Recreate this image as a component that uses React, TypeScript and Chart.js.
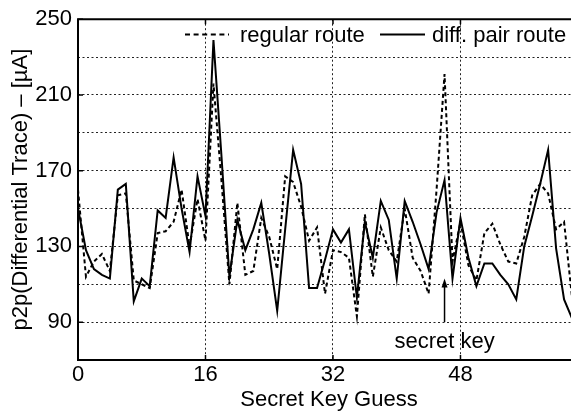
import React, { useEffect, useRef } from 'react';
import { Chart, registerables } from 'chart.js';

Chart.register(...registerables);

const keyGuesses = [
  0, 1, 2, 3, 4, 5, 6, 7, 8, 9, 10, 11, 12, 13, 14, 15,
  16, 17, 18, 19, 20, 21, 22, 23, 24, 25, 26, 27, 28, 29, 30, 31,
  32, 33, 34, 35, 36, 37, 38, 39, 40, 41, 42, 43, 44, 45, 46, 47,
  48, 49, 50, 51, 52, 53, 54, 55, 56, 57, 58, 59, 60, 61, 62,
];

const regularRoute = [
  160, 114, 122, 126, 117, 157, 158, 112, 110, 108, 137, 138, 143, 160, 130, 155,
  133, 216, 165, 110, 153, 115, 117, 145, 135, 118, 167, 164, 151, 133, 140, 105,
  128, 127, 124, 93, 147, 114, 140, 128, 122, 150, 124, 117, 105, 160, 221, 122,
  143, 120, 112, 137, 142, 131, 122, 121, 135, 157, 163, 158, 139, 143, 103,
];

const diffPairRoute = [
  150, 128, 118, 115, 113, 160, 163, 101, 113, 109, 149, 145, 177, 150, 127, 167,
  146, 239, 178, 114, 144, 128, 139, 153, 126, 96, 139, 181, 163, 108, 108, 123,
  139, 132, 139, 103, 143, 124, 154, 144, 113, 154, 143, 131, 118, 148, 165, 113,
  145, 124, 109, 121, 121, 115, 110, 102, 130, 146, 163, 181, 129, 102, 92,
];

const xTickLabels = [0, 16, 32, 48];
const xGridValues = [16, 32, 48];
const yTickLabels = [90, 130, 170, 210, 250];
const yGridValues = [90, 110, 130, 150, 170, 190, 210, 230];

const X_MIN = 0;
const X_MAX = 63;
const Y_MIN = 70;
const Y_MAX = 250;

const secretKey = 46;
const arrowFrom = 90;
const arrowTo = 112;

const seriesNames = ['regular route', 'diff. pair route'];
const xTitle = 'Secret Key Guess';
const yTitle = 'p2p(Differential Trace) \u2013 [\u00B5A]';
const annotationText = 'secret key';

const FONT = "'Liberation Sans', Arial, Helvetica, sans-serif";

const decorPlugin = {
  id: 'decor',
  afterDatasetsDraw(chart: any) {
    const { ctx, chartArea: a, scales } = chart;
    const xs = scales.x;
    const ys = scales.y;
    ctx.save();
    ctx.setLineDash([]);
    ctx.strokeStyle = '#000';
    ctx.fillStyle = '#000';

    // frame
    ctx.lineWidth = 2;
    ctx.beginPath();
    ctx.moveTo(a.right + 5, a.top);
    ctx.lineTo(a.left, a.top);
    ctx.lineTo(a.left, a.bottom);
    ctx.lineTo(a.right + 5, a.bottom);
    ctx.stroke();

    // inward tick marks
    ctx.lineWidth = 1.5;
    ctx.beginPath();
    yTickLabels.forEach((v) => {
      const py = ys.getPixelForValue(v);
      ctx.moveTo(a.left, py);
      ctx.lineTo(a.left + 5, py);
    });
    xGridValues.forEach((v) => {
      const px = xs.getPixelForValue(v);
      ctx.moveTo(px, a.bottom);
      ctx.lineTo(px, a.bottom - 5);
      ctx.moveTo(px, a.top);
      ctx.lineTo(px, a.top + 5);
    });
    ctx.stroke();

    // legend
    ctx.font = `22px ${FONT}`;
    ctx.textBaseline = 'alphabetic';
    ctx.textAlign = 'left';
    ctx.lineWidth = 2;
    ctx.setLineDash([5, 3.6]);
    ctx.beginPath();
    ctx.moveTo(185, 34.5);
    ctx.lineTo(229, 34.5);
    ctx.stroke();
    ctx.setLineDash([]);
    ctx.fillText(seriesNames[0], 240, 42);
    ctx.beginPath();
    ctx.moveTo(380, 34.5);
    ctx.lineTo(425, 34.5);
    ctx.stroke();
    ctx.fillText(seriesNames[1], 432, 42);

    // secret key annotation
    const ax = xs.getPixelForValue(secretKey);
    const y0 = ys.getPixelForValue(arrowFrom);
    const y1 = ys.getPixelForValue(arrowTo);
    ctx.lineWidth = 1.5;
    ctx.beginPath();
    ctx.moveTo(ax, y0);
    ctx.lineTo(ax, y1 + 6);
    ctx.stroke();
    ctx.beginPath();
    ctx.moveTo(ax, y1 - 2);
    ctx.lineTo(ax - 3, y1 + 7);
    ctx.lineTo(ax + 3, y1 + 7);
    ctx.closePath();
    ctx.fill();
    ctx.textAlign = 'center';
    ctx.fillText(annotationText, ax, 348);

    ctx.restore();
  },
};

export default function App() {
  const canvasRef = useRef<HTMLCanvasElement | null>(null);

  useEffect(() => {
    const canvas = canvasRef.current;
    if (!canvas) return;
    const chart = new Chart(canvas, {
      type: 'line',
      data: {
        datasets: [
          {
            label: seriesNames[1],
            data: keyGuesses.map((k, i) => ({ x: k, y: diffPairRoute[i] })),
            borderColor: '#000',
            borderWidth: 2,
            pointRadius: 0,
            tension: 0,
            fill: false,
          },
          {
            label: seriesNames[0],
            data: keyGuesses.map((k, i) => ({ x: k, y: regularRoute[i] })),
            borderColor: '#000',
            borderWidth: 2,
            borderDash: [4, 3],
            pointRadius: 0,
            tension: 0,
            fill: false,
          },
        ],
      },
      options: {
        animation: false,
        responsive: false,
        devicePixelRatio: 1,
        layout: { padding: { left: 0, top: 19, right: 20, bottom: 0 } },
        plugins: {
          legend: { display: false },
          tooltip: { enabled: false },
        },
        scales: {
          x: {
            type: 'linear',
            min: X_MIN,
            max: X_MAX,
            afterFit: (s: any) => {
              s.height = 53;
            },
            ticks: {
              stepSize: 16,
              autoSkip: false,
              maxRotation: 0,
              padding: 2,
              color: '#000',
              font: { family: FONT, size: 22 },
              callback: (v: any) => (xTickLabels.includes(Number(v)) ? String(v) : ''),
            },
            grid: {
              drawTicks: false,
              lineWidth: 1,
              color: (c: any) =>
                c.tick && xGridValues.includes(c.tick.value) ? '#222' : 'rgba(0,0,0,0)',
            },
            border: { display: false, dash: [2, 2.5] },
            title: {
              display: true,
              text: xTitle,
              color: '#000',
              font: { family: FONT, size: 22 },
              padding: { top: 0, bottom: 0 },
            },
          },
          y: {
            type: 'linear',
            min: Y_MIN,
            max: Y_MAX,
            afterFit: (s: any) => {
              s.width = 78;
            },
            ticks: {
              stepSize: 20,
              autoSkip: false,
              padding: 6,
              color: '#000',
              font: { family: FONT, size: 22 },
              callback: (v: any) => (yTickLabels.includes(Number(v)) ? String(v) : ''),
            },
            grid: {
              drawTicks: false,
              lineWidth: 1,
              color: (c: any) =>
                c.tick && yGridValues.includes(c.tick.value) ? '#222' : 'rgba(0,0,0,0)',
            },
            border: { display: false, dash: [2, 2.5] },
            title: {
              display: true,
              text: yTitle,
              color: '#000',
              font: { family: FONT, size: 22 },
              padding: { top: 8, bottom: 0 },
            },
          },
        },
      },
      plugins: [decorPlugin],
    });
    return () => chart.destroy();
  }, []);

  return (
    <div
      style={{
        position: 'fixed',
        left: 0,
        top: 0,
        width: 571,
        height: 413,
        overflow: 'hidden',
        background: '#fff',
      }}
    >
      <div style={{ width: 600, height: 413 }}>
        <canvas
          ref={canvasRef}
          width={600}
          height={413}
          style={{ display: 'block', width: 600, height: 413 }}
        />
      </div>
    </div>
  );
}
